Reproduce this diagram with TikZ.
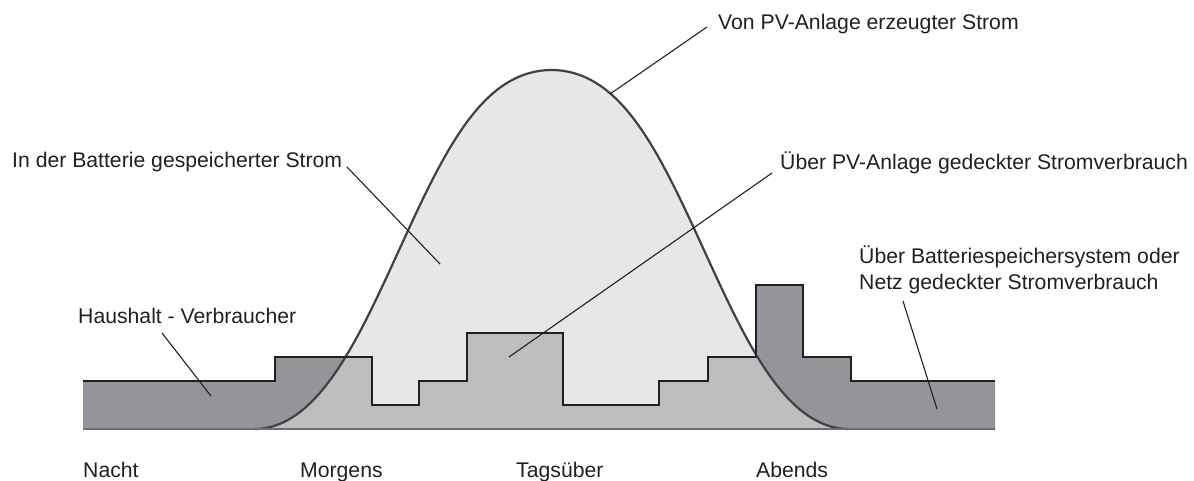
\documentclass[tikz,border=0pt]{standalone}
\usepackage{fontspec}
\setmainfont{Liberation Sans}
\definecolor{darkfill}{HTML}{939598}
\definecolor{midfill}{HTML}{BCBEC0}
\definecolor{lightfill}{HTML}{E6E7E8}
\definecolor{ink}{HTML}{231F20}
\definecolor{bellink}{HTML}{414042}
\definecolor{basegray}{HTML}{6D6E71}
\begin{document}
\begin{tikzpicture}[x=1pt,y=-1pt,
  declare function={rc(\t)=0.5*(1+cos(((\t-551.5)/297)*180));
                    bell(\t)=rc(\t)+0.6*rc(\t)*(1-rc(\t))*(rc(\t)-0.35);},
  lbl/.style={anchor=base west, inner sep=0pt, font=\fontsize{21.2}{26}\selectfont, text=ink},
  leader/.style={draw=ink, line width=1.1pt},
  stepink/.style={draw=ink, line width=2.4pt, line join=miter},
  bellline/.style={draw=bellink, line width=2.2pt},
  baseline/.style={draw=basegray, line width=2pt},
  stepline/.style={insert path={-- (275,381) -- (275,357) -- (372,357) -- (372,405) -- (419,405) -- (419,381) -- (467,381) -- (467,333) -- (563,333) -- (563,405) -- (659,405) -- (659,381) -- (708,381) -- (708,357) -- (756,357) -- (756,285) -- (803,285) -- (803,357) -- (851,357) -- (851,381) -- (995,381)}},
  bellpath/.style={insert path={plot[domain=254.5:848.5, samples=240, smooth] (\x,{429-359*bell(\x)})}}
]
\useasboundingbox (0,0) rectangle (1194,480);

% fills
\fill[darkfill] (83,429) -- (83,381) [stepline] -- (995,429) -- cycle;
\fill[lightfill] [bellpath] -- cycle;
\begin{scope}
  \clip [bellpath] -- cycle;
  \fill[midfill] (83,429) -- (83,381) [stepline] -- (995,429) -- cycle;
\end{scope}

% outlines
\draw[bellline] [bellpath];
\draw[stepink] (83,381) [stepline];
\draw[baseline] (83,429) -- (995,429);

% labels
\node[lbl] (pv) at (718,29) {Von PV-Anlage erzeugter Strom};
\node[lbl] (bat) at (12,167) {In der Batterie gespeicherter Strom};
\node[lbl] (pvd) at (780,169) {Über PV-Anlage gedeckter Stromverbrauch};
\node[lbl] (bs1) at (859,263) {Über Batteriespeichersystem oder};
\node[lbl] (bs2) at (859,289) {Netz gedeckter Stromverbrauch};
\node[lbl] (hh) at (78,323) {Haushalt - Verbraucher};
\node[lbl] (nacht) at (83,477) {Nacht};
\node[lbl] (morgens) at (300,477) {Morgens};
\node[lbl] (tags) at (516,477) {Tagsüber};
\node[lbl] (abends) at (756,477) {Abends};

% leader end points
\coordinate (pvA) at (707,27);   \coordinate (pvB) at (610,94);
\coordinate (batA) at (347,167); \coordinate (batB) at (440,264);
\coordinate (pvdA) at (772,173); \coordinate (pvdB) at (509,357);
\coordinate (bsA) at (903,301);  \coordinate (bsB) at (937,409);
\coordinate (hhA) at (162,333);  \coordinate (hhB) at (211,396);

\draw[leader] (pvA) -- (pvB);
\draw[leader] (batA) -- (batB);
\draw[leader] (pvdA) -- (pvdB);
\draw[leader] (bsA) -- (bsB);
\draw[leader] (hhA) -- (hhB);
\end{tikzpicture}
\end{document}
